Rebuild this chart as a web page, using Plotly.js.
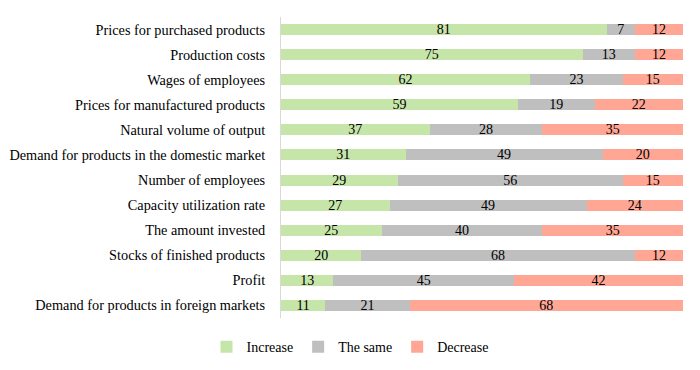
<!DOCTYPE html>
<html>
<head>
<meta charset="utf-8">
<script src="https://cdn.plot.ly/plotly-3.0.1.min.js"></script>
<style>
  html, body { margin: 0; padding: 0; background: #fff; }
  #plot { width: 700px; height: 370px; }
</style>
</head>
<body>
<div id="plot"></div>
<script>
// Categories, top to bottom
var categories = [
  "Prices for purchased products",
  "Production costs",
  "Wages of employees",
  "Prices for manufactured products",
  "Natural volume of output",
  "Demand for products in the domestic market",
  "Number of employees",
  "Capacity utilization rate",
  "The amount invested",
  "Stocks of finished products",
  "Profit",
  "Demand for products in foreign markets"
];

// Shares of answers, %
var increase = [81, 75, 62, 59, 37, 31, 29, 27, 25, 20, 13, 11];
var same     = [7, 13, 23, 19, 28, 49, 56, 49, 40, 68, 45, 21];
var decrease = [12, 12, 15, 22, 35, 20, 15, 24, 35, 12, 42, 68];

var serif = "Liberation Serif, Times New Roman, serif";

function makeTrace(values, name, color) {
  return {
    y: categories,
    x: values,
    text: values.map(String),
    name: name,
    type: "bar",
    orientation: "h",
    marker: { color: color },
    textposition: "inside",
    insidetextanchor: "middle",
    textangle: 0,
    constraintext: "none",
    textfont: { family: serif, size: 14, color: "#000" },
    hoverinfo: "name+x"
  };
}

var data = [
  makeTrace(increase, "Increase", "#c6e5a9"),
  makeTrace(same, "The same", "#bfbfbf"),
  makeTrace(decrease, "Decrease", "#ffa694")
];

var layout = {
  width: 700,
  height: 370,
  barmode: "stack",
  bargap: 0.56,
  margin: { l: 281, r: 17, t: 17, b: 52 },
  font: { family: serif, size: 14, color: "#000" },
  paper_bgcolor: "#fff",
  plot_bgcolor: "#fff",
  xaxis: {
    range: [0, 100],
    visible: false,
    fixedrange: true
  },
  yaxis: {
    autorange: "reversed",
    showline: true,
    linecolor: "#d9d9d9",
    linewidth: 1,
    ticks: "",
    ticklabelstandoff: 12,
    showgrid: false,
    zeroline: false,
    tickfont: { family: serif, size: 14.3, color: "#000" }
  },
  showlegend: true,
  legend: {
    orientation: "h",
    xref: "container",
    yref: "container",
    x: 0.5,
    xanchor: "center",
    y: 0.062,
    yanchor: "middle",
    traceorder: "normal",
    font: { family: serif, size: 14, color: "#000" },
    itemwidth: 30
  }
};

Plotly.newPlot("plot", data, layout, { displayModeBar: false, staticPlot: true });
</script>
</body>
</html>
